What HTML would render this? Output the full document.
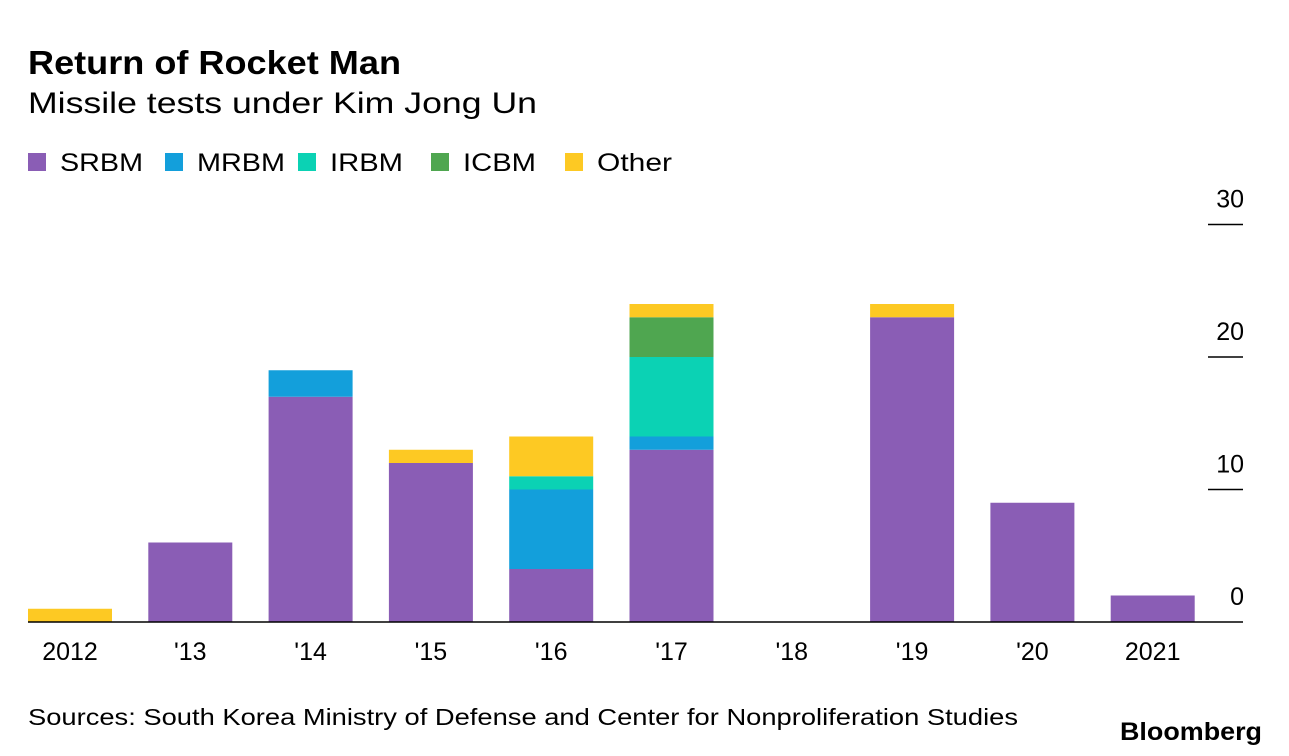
<!DOCTYPE html>
<html><head><meta charset="utf-8"><style>
body{margin:0;width:1289px;height:756px;background:#fff;font-family:"Liberation Sans",sans-serif;overflow:hidden;position:relative}
</style></head><body>
<svg id="c" width="1289" height="756" style="position:absolute;left:0;top:0;font-family:'Liberation Sans',sans-serif">
<text x="28" y="74" font-size="33" font-weight="bold" textLength="373" lengthAdjust="spacingAndGlyphs">Return of Rocket Man</text>
<text x="28" y="113" font-size="30" textLength="509" lengthAdjust="spacingAndGlyphs">Missile tests under Kim Jong Un</text>
<text x="28" y="725" font-size="23" textLength="990" lengthAdjust="spacingAndGlyphs">Sources: South Korea Ministry of Defense and Center for Nonproliferation Studies</text>
<text x="1120" y="740" font-size="25" font-weight="bold" textLength="142" lengthAdjust="spacingAndGlyphs">Bloomberg</text>
</svg>
<script>
const categories=["2012","'13","'14","'15","'16","'17","'18","'19","'20","2021"];
const seriesNames=["SRBM","MRBM","IRBM","ICBM","Other"];
const srbm=[0,6,17,12,4,13,0,23,9,2];
const mrbm=[0,0,2,0,6,1,0,0,0,0];
const irbm=[0,0,0,0,1,6,0,0,0,0];
const icbm=[0,0,0,0,0,3,0,0,0,0];
const other=[1,0,0,1,3,1,0,1,0,0];
const yTicks=[0,10,20,30];
const colors=["#8a5db5","#139fdb","#0bd2b4","#4fa650","#fdc923"];
const svg=document.getElementById('c');
const NS="http://www.w3.org/2000/svg";
const y=v=>622-v*13.25;
const x=i=>28+i*120.3;
const bw=84;
function mk(t,a){const e=document.createElementNS(NS,t);for(const k in a)e.setAttribute(k,a[k]);svg.appendChild(e);return e;}
const lx=[28,165,298,431,565];
const lw=[83,88,73,73,75];
seriesNames.forEach((n,i)=>{
 const r=mk('rect',{x:lx[i],y:153,width:18,height:18,fill:colors[i]});
 
 
 const t=mk('text',{x:lx[i]+32,y:171,'font-size':25,fill:'#000',textLength:lw[i],lengthAdjust:'spacingAndGlyphs'});t.textContent=n;
 
 
});
yTicks.forEach(v=>{
 if(v>0){const l=mk('line',{x1:1208,x2:1243,y1:y(v),y2:y(v),stroke:'#000','stroke-width':1.5});
 
 }
 const t=mk('text',{x:1244,y:y(v)-17,'font-size':25,'text-anchor':'end',fill:'#000'});t.textContent=v;
 
 
});
const all=[srbm,mrbm,irbm,icbm,other];
categories.forEach((c,i)=>{
 let base=0;
 all.forEach((s,k)=>{
  if(s[i]>0){
   const r=mk('rect',{x:x(i),y:y(base+s[i]),width:bw,height:y(base)-y(base+s[i]),fill:colors[k]});
   
   
  }
  base+=s[i];
 });
 const t=mk('text',{x:x(i)+bw/2,y:660,'font-size':25,'text-anchor':'middle',fill:'#000'});t.textContent=c;
 
 
});
const b=mk('line',{x1:28,x2:1243,y1:622,y2:622,stroke:'#000','stroke-width':1.5});


</script>
</body></html>
